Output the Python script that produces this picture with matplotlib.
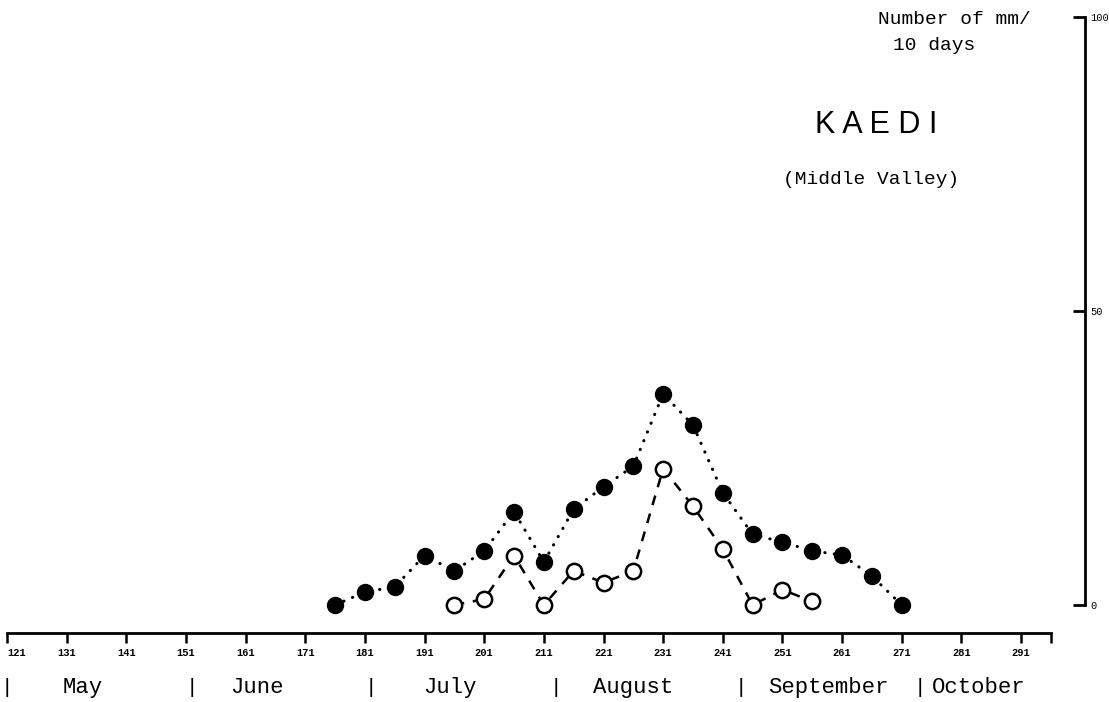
import numpy as np
import matplotlib.pyplot as plt

# pentad positions (day of year) and 10-day rainfall totals, mm
days_filled = [176, 181, 186, 191, 196, 201, 206, 211, 216, 221,
               226, 231, 236, 241, 246, 251, 256, 261, 266, 271]
rain_filled = [0, 2.2, 3.1, 8.4, 5.8, 9.2, 15.9, 7.3, 16.3, 20.1,
               23.6, 35.9, 30.6, 19.1, 12.0, 10.7, 9.2, 8.5, 4.9, 0]

days_open = [196, 201, 206, 211, 216, 221, 226, 231, 236, 241, 246, 251, 256]
rain_open = [0, 1.0, 8.4, 0, 5.8, 3.8, 5.8, 23.2, 16.8, 9.5, 0, 2.6, 0.6]

tick_days = [121, 131, 141, 151, 161, 171, 181, 191, 201,
             211, 221, 231, 241, 251, 261, 271, 281, 291]
y_ticks = [0, 50, 100]

months = ["May", "June", "July", "August", "September", "October"]
month_starts = [121, 152, 182, 213, 244, 274]
month_label_x = [130.4, 158.4, 190.7, 219.2, 248.6, 276.1]

mono = "Liberation Mono"


def main():
    fig = plt.figure(figsize=(11.09, 7.02), dpi=100)
    ax = fig.add_axes([0, 0, 1, 1])
    ax.set_xlim(119.83, 305.74)
    ax.set_ylim(-16.5, 102.9)

    ax.spines["left"].set_visible(False)
    ax.spines["top"].set_visible(False)

    ax.spines["bottom"].set_position(("data", -4.76))
    ax.spines["bottom"].set_bounds(121, 296)
    ax.spines["bottom"].set_linewidth(2)

    ax.spines["right"].set_position(("data", 301.7))
    ax.spines["right"].set_bounds(0, 100)
    ax.spines["right"].set_linewidth(2)

    ax.set_xticks(tick_days)
    labels = ax.set_xticklabels([str(d) for d in tick_days], fontfamily=mono,
                                fontsize=7.5, fontweight="bold")
    # first label sits against the left edge
    labels[0].set_horizontalalignment("left")
    ax.set_xticks([296], minor=True)
    ax.tick_params(axis="x", which="both", direction="out", length=7,
                   width=1.8, pad=4, colors="black")

    ax.yaxis.tick_right()
    ax.set_yticks(y_ticks)
    ax.set_yticklabels([str(v) for v in y_ticks], fontfamily=mono, fontsize=7.5)
    ax.tick_params(axis="y", direction="in", length=9, width=2, pad=4)

    # 10-day sums: filled = all rain, open = second series
    ax.plot(days_open, rain_open, color="black", lw=1.8,
            linestyle=(0, (4, 3.5)), marker="o", ms=11,
            mfc="white", mec="black", mew=1.8, zorder=3)
    ax.plot(days_filled, rain_filled, color="black", lw=2.2,
            linestyle=(0, (0.1, 3)), dash_capstyle="round",
            marker="o", ms=11.5, mfc="black", mec="black", zorder=4)

    # month names along the bottom
    xt = ax.get_xaxis_transform()
    for name, x in zip(months, month_label_x):
        ax.text(x, 0.02, name, transform=xt, fontfamily=mono, fontsize=16,
                ha="left", va="center")
    for x in month_starts:
        ax.text(x, 0.02, "|", transform=xt, fontfamily=mono, fontsize=15,
                ha="center", va="center")

    ax.text(878 / 1109, 1 - 20 / 702, "Number of mm/", transform=ax.transAxes,
            fontfamily=mono, fontsize=14, ha="left", va="center")
    ax.text(893 / 1109, 1 - 46 / 702, "10 days", transform=ax.transAxes,
            fontfamily=mono, fontsize=14, ha="left", va="center")
    ax.text(815 / 1109, 1 - 125 / 702, "K A E D I", transform=ax.transAxes,
            fontfamily="Liberation Sans", fontsize=22, ha="left", va="center")
    ax.text(783 / 1109, 1 - 179 / 702, "(Middle Valley)", transform=ax.transAxes,
            fontfamily=mono, fontsize=14, ha="left", va="center")

    fig.savefig("out.png", dpi=100)


if __name__ == "__main__":
    main()
